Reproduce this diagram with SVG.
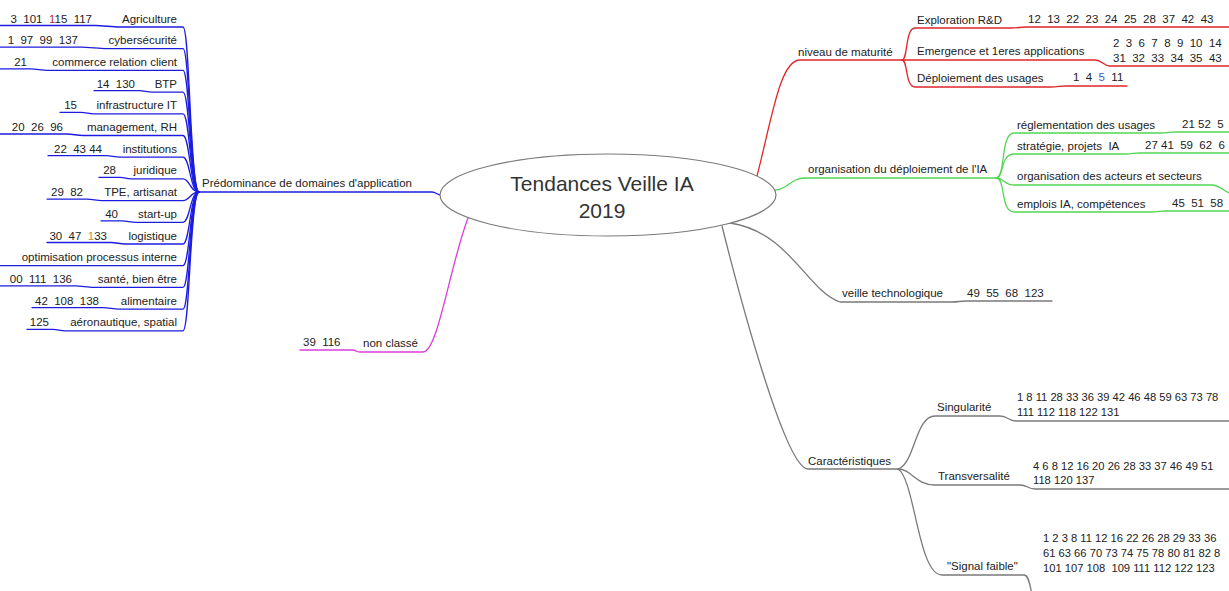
<svg xmlns="http://www.w3.org/2000/svg" width="1229" height="591" viewBox="0 0 1229 591">
<style>
.t{font-family:"Liberation Sans",Arial,sans-serif;font-size:11.5px;fill:#222;white-space:pre}
.e{text-anchor:end}
.s{font-size:11.2px}
.title{font-family:"Liberation Sans",Arial,sans-serif;font-size:21px;fill:#333;text-anchor:middle}
.c{fill:none;stroke-width:1.3;stroke-linecap:round}
.blue{stroke:#1c1ce0}
.red{stroke:#e0262a}
.green{stroke:#52d652}
.mag{stroke:#dc3cdc}
.gray{stroke:#7a7a7a}
</style>
<rect width="1229" height="591" fill="#fff"/>
<g id="connectors">
<g class="c blue">
<path d="M197,192 L432,192 C436,192 437,195 441,195"/>
<path d="M0,25.5 L96,25.5 C101,25.5 114,27 119,27 L183,27 C190,27 190,192 199,192"/>
<path d="M0,47.2 L82,47.2 C87,47.2 101,48.7 106,48.7 L183,48.7 C190,48.7 190,192 199,192"/>
<path d="M0,68.9 L31,68.9 C36,68.9 42,70.4 47,70.4 L183,70.4 C190,70.4 190,192 199,192"/>
<path d="M94,90.6 L139,90.6 C144,90.6 147,92.1 152,92.1 L183,92.1 C190,92.1 190,192 199,192"/>
<path d="M60,112.3 L81,112.3 C86,112.3 89,113.8 94,113.8 L183,113.8 C190,113.8 190,192 199,192"/>
<path d="M0,134 L67,134 C72,134 78,135.5 83,135.5 L183,135.5 C190,135.5 190,192 199,192"/>
<path d="M48,155.7 L106,155.7 C111,155.7 115,157.2 120,157.2 L183,157.2 C190,157.2 190,192 199,192"/>
<path d="M99,177.4 L120,177.4 C125,177.4 126,178.9 131,178.9 L183,178.9 C190,178.9 190,192 199,192"/>
<path d="M47,199.1 L87,199.1 C92,199.1 97,200.6 102,200.6 L183,200.6 C190,200.6 190,192 199,192"/>
<path d="M101,220.8 L122,220.8 C127,220.8 131,222.3 136,222.3 L183,222.3 C190,222.3 190,192 199,192"/>
<path d="M47,242.5 L111,242.5 C116,242.5 120,244 125,244 L183,244 C190,244 190,192 199,192"/>
<path d="M0,265.7 L183,265.7 C190,265.7 190,192 199,192"/>
<path d="M0,285.9 L76,285.9 C81,285.9 88,287.4 93,287.4 L183,287.4 C190,287.4 190,192 199,192"/>
<path d="M32,307.6 L103,307.6 C108,307.6 114,309.1 119,309.1 L183,309.1 C190,309.1 190,192 199,192"/>
<path d="M27,329.3 L53,329.3 C58,329.3 60,330.8 65,330.8 L183,330.8 C190,330.8 190,192 199,192"/>
</g>
<g class="c mag">
<path d="M300,350 L352,350 C357,350 355,352 360,352 L423,352 C438,352 450,265 468,218"/>
</g>
<g class="c red">
<path d="M757,176 C772,118 780,60 800,60 L902,60"/>
<path d="M902,60 C908,60 905,28 915,28 L1012,28 C1018,28 1020,27 1026,27 L1229,27"/>
<path d="M902,60 L1095,60 C1102,60 1104,66 1110,66 L1229,66"/>
<path d="M902,60 C908,60 905,87 915,87 L1050,87 C1058,87 1060,86 1066,86 L1127,86"/>
</g>
<g class="c green">
<path d="M775,190 C788,190 790,178 805,178 L996,178"/>
<path d="M996,178 C1006,178 1000,133 1014,133 L1160,133 C1168,133 1170,132 1176,132 L1229,132"/>
<path d="M996,178 C1004,178 1000,154 1014,154 L1125,154 C1132,154 1134,153 1140,153 L1229,153"/>
<path d="M996,178 C1004,178 1004,185 1014,185 L1212,185 C1220,185 1222,191 1230,193"/>
<path d="M996,178 C1006,178 1000,212 1014,212 L1150,212 C1158,212 1160,211 1166,211 L1229,211"/>
</g>
<g class="c gray">
<path d="M730,223 C790,232 806,290 840,302 L952,302 C958,302 960,301 966,301 L1052,301"/>
<path d="M722,226 C738,290 785,469 808,469 L898,469"/>
<path d="M898,469 C915,464 915,416 935,416 L1000,416 C1008,416 1008,421 1016,421 L1229,421"/>
<path d="M898,469 C912,469 915,485 935,485 L1020,485 C1027,485 1028,489 1035,489 L1229,489"/>
<path d="M898,469 C915,479 918,575 942,575 L1024,575 C1030,575 1030,591 1034,600"/>
</g>
</g>
<g id="center">
<ellipse cx="608" cy="195" rx="168" ry="41" fill="#fff" stroke="#7a7a7a" stroke-width="1.2"/>
<text class="title" x="602" y="191">Tendances Veille IA</text>
<text class="title" x="602" y="218">2019</text>
</g>
<g id="domaines">
<text class="t" x="202" y="187">Prédominance de domaines d'application</text>
</g>
<g id="agriculture"><text class="t e" x="177" y="22.5">Agriculture</text><text class="t e" x="92" y="22.5">3 &#160;101 &#160;<tspan fill="#b03030">1</tspan>15 &#160;117</text></g>
<g id="cybersecurite"><text class="t e" x="177" y="44.2">cybersécurité</text><text class="t e" x="78" y="44.2">1 &#160;97 &#160;99 &#160;137</text></g>
<g id="commerce"><text class="t e" x="177" y="65.9">commerce relation client</text><text class="t e" x="27" y="65.9">21</text></g>
<g id="btp"><text class="t e" x="177" y="87.6">BTP</text><text class="t e" x="135" y="87.6">14 &#160;130</text></g>
<g id="infrastructure"><text class="t e" x="177" y="109.3">infrastructure IT</text><text class="t e" x="77" y="109.3">15</text></g>
<g id="management"><text class="t e" x="177" y="131">management, RH</text><text class="t e" x="63" y="131">20 &#160;26 &#160;96</text></g>
<g id="institutions"><text class="t e" x="177" y="152.7">institutions</text><text class="t e" x="102" y="152.7">22 &#160;43 44</text></g>
<g id="juridique"><text class="t e" x="177" y="174.4">juridique</text><text class="t e" x="116" y="174.4">28</text></g>
<g id="tpe"><text class="t e" x="177" y="196.1">TPE, artisanat</text><text class="t e" x="83" y="196.1">29 &#160;82</text></g>
<g id="startup"><text class="t e" x="177" y="217.8">start-up</text><text class="t e" x="118" y="217.8">40</text></g>
<g id="logistique"><text class="t e" x="177" y="239.5">logistique</text><text class="t e" x="107" y="239.5">30 &#160;47 &#160;<tspan fill="#c88a40">1</tspan>33</text></g>
<g id="optimisation"><text class="t e" x="177" y="261.2">optimisation processus interne</text></g>
<g id="sante"><text class="t e" x="177" y="282.9">santé, bien être</text><text class="t e" x="72" y="282.9">00 &#160;111 &#160;136</text></g>
<g id="alimentaire"><text class="t e" x="177" y="304.6">alimentaire</text><text class="t e" x="99" y="304.6">42 &#160;108 &#160;138</text></g>
<g id="aeronautique"><text class="t e" x="177" y="326.3">aéronautique, spatial</text><text class="t e" x="49" y="326.3">125</text></g>
<g id="nonclasse"><text class="t" x="363" y="347">non classé</text><text class="t" x="303" y="346">39 &#160;116</text></g>
<g id="maturite"><text class="t" x="798" y="56">niveau de maturité</text></g>
<g id="exploration"><text class="t" x="917" y="24">Exploration R&amp;D</text><text class="t" x="1028" y="23">12 &#160;13 &#160;22 &#160;23 &#160;24 &#160;25 &#160;28 &#160;37 &#160;42 &#160;43</text></g>
<g id="emergence"><text class="t" x="917" y="55">Emergence et 1eres applications</text><text class="t" x="1113" y="47">2 &#160;3 &#160;6 &#160;7 &#160;8 &#160;9 &#160;10 &#160;14</text><text class="t" x="1113" y="62">31 &#160;32 &#160;33 &#160;34 &#160;35 &#160;43</text></g>
<g id="deploiement"><text class="t" x="917" y="82">Déploiement des usages</text><text class="t" x="1073" y="81">1 &#160;4 &#160;<tspan fill="#4060c0">5</tspan> &#160;11</text></g>
<g id="organisation"><text class="t" x="808" y="173">organisation du déploiement de l'IA</text></g>
<g id="reglementation"><text class="t" x="1017" y="129">réglementation des usages</text><text class="t" x="1182" y="128">21 52 &#160;5</text></g>
<g id="strategie"><text class="t" x="1017" y="150">stratégie, projets &#160;IA</text><text class="t" x="1145" y="149">27 41 &#160;59 &#160;62 &#160;6</text></g>
<g id="acteurs"><text class="t" x="1017" y="180">organisation des acteurs et secteurs</text></g>
<g id="emplois"><text class="t" x="1017" y="208">emplois IA, compétences</text><text class="t" x="1172" y="207">45 &#160;51 &#160;58</text></g>
<g id="veille"><text class="t" x="842" y="297">veille technologique</text><text class="t" x="967" y="297">49 &#160;55 &#160;68 &#160;123</text></g>
<g id="caracteristiques"><text class="t" x="808" y="465">Caractéristiques</text></g>
<g id="singularite"><text class="t" x="937" y="411">Singularité</text><text class="t s" x="1017" y="401">1 8 11 28 33 36 39 42 46 48 59 63 73 78</text><text class="t s" x="1017" y="416">111 112 118 122 131</text></g>
<g id="transversalite"><text class="t" x="938" y="480">Transversalité</text><text class="t s" x="1033" y="470">4 6 8 12 16 20 26 28 33 37 46 49 51</text><text class="t s" x="1033" y="484">118 120 137</text></g>
<g id="signal"><text class="t" x="947" y="570">"Signal faible"</text><text class="t s" x="1043" y="542">1 2 3 8 11 12 16 22 26 28 29 33 36</text><text class="t s" x="1043" y="557">61 63 66 70 73 74 75 78 80 81 82 8</text><text class="t s" x="1043" y="572">101 107 108 &#160;109 111 112 122 123</text></g>
</svg>
